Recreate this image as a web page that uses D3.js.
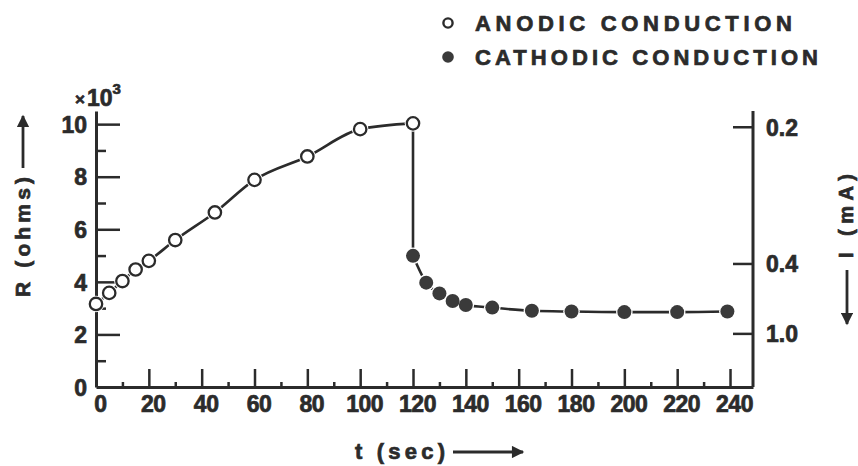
<!DOCTYPE html>
<html>
<head>
<meta charset="utf-8">
<script src="https://cdn.jsdelivr.net/npm/d3@7"></script>
<style>
  html, body { margin: 0; padding: 0; background: #fff; }
  svg { display: block; }
  text { font-family: "Liberation Sans", Arial, sans-serif; font-weight: bold; fill: #2b2b2b;
         stroke: #2b2b2b; stroke-width: 0.7px; }
</style>
</head>
<body>
<svg id="chart" width="858" height="466"></svg>
<script>
// ---- data ----
const anodicT = [0, 5, 10, 15, 20, 30, 45, 60, 80, 100, 120];
const anodicR = [3.16, 3.58, 4.03, 4.47, 4.80, 5.59, 6.64, 7.88, 8.77, 9.81, 10.03];
const cathodicT = [120, 125, 130, 135, 140, 150, 165, 180, 200, 220, 239];
const cathodicR = [4.99, 3.97, 3.56, 3.27, 3.12, 3.02, 2.90, 2.87, 2.85, 2.85, 2.87];
const xTicks = [0, 20, 40, 60, 80, 100, 120, 140, 160, 180, 200, 220, 240];
const yTicks = [0, 2, 4, 6, 8, 10];
const iTicks = [0.2, 0.4, 1.0];
const iTickLabels = ["0.2", "0.4", "1.0"];
const iCalibR = [9.9, 4.7, 2.04]; // resistance equivalent to each current tick
const legendLabels = ["ANODIC CONDUCTION", "CATHODIC CONDUCTION"];

const ink = "#2b2b2b";
const svg = d3.select("#chart");

const x = d3.scaleLinear().domain([0, 248.7]).range([96, 753]);
const y = d3.scaleLinear().domain([0, 10.5]).range([387, 111]);
const yI = d3.scaleLinear().domain(iTicks).range(iCalibR.map(r => y(r)));

// arrow marker
const defs = svg.append("defs");
defs.append("marker").attr("id", "arrow").attr("viewBox", "0 0 10 10")
  .attr("refX", 9).attr("refY", 5).attr("markerWidth", 5.5).attr("markerHeight", 4.4)
  .attr("markerUnits", "strokeWidth").attr("orient", "auto")
  .append("path").attr("d", "M0,0 L10,5 L0,10 Z").attr("fill", ink);

// ---- axes ----
const axisStyle = g => {
  g.selectAll("path.domain").attr("stroke", ink).attr("stroke-width", 3);
  g.selectAll(".tick line").attr("stroke", ink).attr("stroke-width", 2.5);
  g.selectAll(".tick text").attr("font-size", 23).attr("fill", ink)
    .attr("font-family", "'Liberation Sans', Arial, sans-serif").attr("font-weight", "bold");
};

// left axis: minor ticks
svg.append("g").attr("transform", `translate(${x(0)},0)`)
  .call(d3.axisRight(y).tickValues(d3.range(1, 11, 2)).tickSize(10).tickSizeOuter(0).tickFormat(""))
  .call(axisStyle).select("path.domain").remove();
// left axis: major ticks + labels
const gl = svg.append("g").attr("transform", `translate(${x(0)},0)`)
  .call(d3.axisRight(y).tickValues(yTicks).tickSize(24).tickSizeOuter(0).tickFormat(d3.format("d")))
  .call(axisStyle);
gl.selectAll(".tick text").attr("x", -9).attr("text-anchor", "end").attr("dy", "0.36em");
gl.selectAll(".tick").filter(d => d === 0).select("line").remove();

// bottom axis: minor ticks
svg.append("g").attr("transform", `translate(0,${y(0)})`)
  .call(d3.axisTop(x).tickValues(d3.range(10, 250, 20)).tickSize(5).tickSizeOuter(0).tickFormat(""))
  .call(axisStyle).select("path.domain").remove();
// bottom axis: major
const gb = svg.append("g").attr("transform", `translate(0,${y(0)})`)
  .call(d3.axisTop(x).tickValues(xTicks).tickSize(18).tickSizeOuter(0).tickFormat(d3.format("d")))
  .call(axisStyle);
gb.selectAll(".tick").filter(d => d === 0).select("line").remove();
gb.selectAll(".tick text").attr("y", 9).attr("dy", "0.71em").attr("transform", "translate(4,0)")
  .attr("letter-spacing", -0.5);

// right axis
const gr = svg.append("g").attr("transform", `translate(${x(248.7)},0)`)
  .call(d3.axisLeft(yI).tickValues(iTicks).tickSize(20).tickSizeOuter(0)
    .tickFormat((d, i) => iTickLabels[i]))
  .call(axisStyle);
gr.select("path.domain").attr("d", `M0,${y(10.5)}V${y(0)}`);
gr.selectAll(".tick text").attr("x", 13).attr("text-anchor", "start").attr("dy", "0.36em");

// ---- data lines ----
const anodic = anodicT.map((t, i) => [t, anodicR[i]]);
const cathodic = cathodicT.map((t, i) => [t, cathodicR[i]]);
const curve = d3.line().x(d => x(d[0])).y(d => y(d[1])).curve(d3.curveMonotoneX);
const straight = d3.line().x(d => x(d[0])).y(d => y(d[1]));

const lineG = svg.append("g").attr("fill", "none").attr("stroke", ink).attr("stroke-width", 2.6);
lineG.append("path").attr("d", curve(anodic));
lineG.append("path").attr("d", straight([anodic[anodic.length - 1], cathodic[0]]));
lineG.append("path").attr("d", curve(cathodic));

// white halos, then markers
svg.append("g").selectAll("circle").data(anodic.concat(cathodic)).join("circle")
  .attr("cx", d => x(d[0])).attr("cy", d => y(d[1])).attr("r", 8.3).attr("fill", "#fff");
svg.append("g").selectAll("circle").data(cathodic).join("circle")
  .attr("cx", d => x(d[0])).attr("cy", d => y(d[1])).attr("r", 7)
  .attr("fill", "#3a3a3a");
svg.append("g").selectAll("circle").data(anodic).join("circle")
  .attr("cx", d => x(d[0])).attr("cy", d => y(d[1])).attr("r", 6.2)
  .attr("fill", "#fff").attr("stroke", ink).attr("stroke-width", 2.3);

// ---- ×10³ ----
const mult = svg.append("text").attr("x", 75).attr("y", 106);
mult.append("tspan").text("×").attr("font-size", 17).attr("dy", -1);
mult.append("tspan").text("10").attr("dx", 2).attr("dy", 1).attr("font-size", 23);
mult.append("tspan").text("3").attr("font-size", 15).attr("dy", -12);

// ---- axis titles ----
svg.append("text").attr("transform", "translate(30,297) rotate(-90)")
  .attr("font-size", 21).attr("textLength", 120).attr("lengthAdjust", "spacing").text("R (ohms)");
svg.append("line").attr("x1", 23).attr("y1", 168).attr("x2", 23).attr("y2", 116)
  .attr("stroke", ink).attr("stroke-width", 2.8).attr("marker-end", "url(#arrow)");

svg.append("text").attr("transform", "translate(853,258) rotate(-90)")
  .attr("font-size", 20).attr("textLength", 84).attr("lengthAdjust", "spacing").text("I (mA)");
svg.append("line").attr("x1", 847).attr("y1", 270).attr("x2", 847).attr("y2", 324)
  .attr("stroke", ink).attr("stroke-width", 2.8).attr("marker-end", "url(#arrow)");

svg.append("text").attr("x", 355).attr("y", 459)
  .attr("font-size", 22).attr("textLength", 90).attr("lengthAdjust", "spacing").text("t (sec)");
svg.append("line").attr("x1", 453).attr("y1", 452).attr("x2", 523).attr("y2", 452)
  .attr("stroke", ink).attr("stroke-width", 2.8).attr("marker-end", "url(#arrow)");

// ---- legend ----
const leg = svg.append("g");
leg.append("circle").attr("cx", 448).attr("cy", 23).attr("r", 4.6)
  .attr("fill", "#fff").attr("stroke", ink).attr("stroke-width", 2.4);
leg.append("circle").attr("cx", 448).attr("cy", 57).attr("r", 5.8).attr("fill", "#3a3a3a");
leg.append("text").attr("x", 475).attr("y", 31).attr("font-size", 22)
  .attr("textLength", 317).attr("lengthAdjust", "spacing").text(legendLabels[0]);
leg.append("text").attr("x", 475).attr("y", 65).attr("font-size", 22)
  .attr("textLength", 343).attr("lengthAdjust", "spacing").text(legendLabels[1]);
</script>
</body>
</html>
